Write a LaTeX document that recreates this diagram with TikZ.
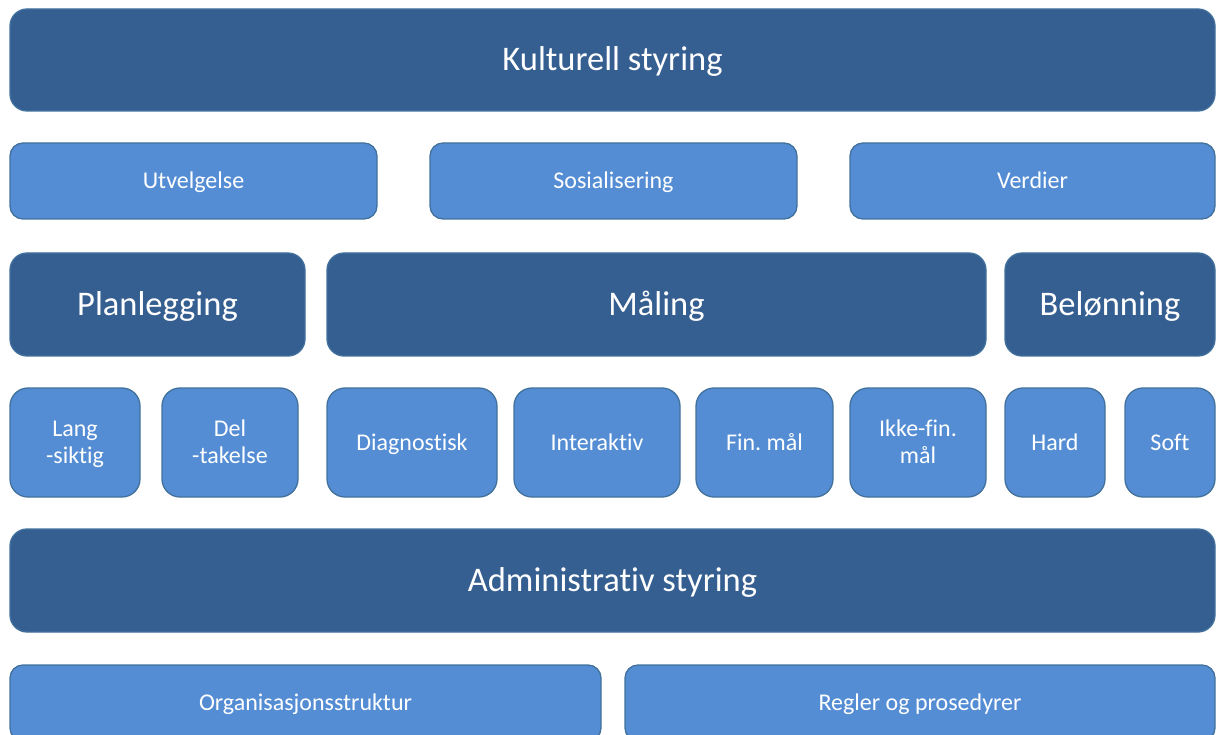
\documentclass[tikz,border=0pt]{standalone}
\usepackage{fontspec}
\setmainfont{Carlito}[Ligatures=NoCommon]
\frenchspacing

\definecolor{morkbla}{RGB}{54,95,145}
\definecolor{lysbla}{RGB}{84,141,212}
\definecolor{kantbla}{RGB}{65,113,156}

\tikzset{
  boks/.style={
    draw=kantbla,
    line width=1.3pt,
    text=white,
    inner sep=0pt,
    align=center,
    text depth=0pt
  },
  hoved/.style={
    boks,
    fill=morkbla,
    rounded corners=17pt,
    text height=21.8pt,
    font=\fontsize{34.5}{40}\selectfont
  },
  under/.style={
    boks,
    fill=lysbla,
    rounded corners=13pt,
    text height=15.2pt,
    font=\fontsize{24}{27.5}\selectfont
  },
  tolinjer/.style={text height=42.7pt}
}

\begin{document}
\begin{tikzpicture}[
  x=1pt,
  y=-1pt,
  line join=round
]
  \clip (0,0) rectangle (1216,735);

  % Kulturell styring
  \node[hoved, minimum width=1205, minimum height=102]
    (kultur) at (612.5,60) {Kulturell styring};

  \node[under, minimum width=367, minimum height=76]
    (utvelg) at (193.5,181) {Utvelgelse};
  \node[under, minimum width=367, minimum height=76]
    (sosial) at (613.5,181) {Sosialisering};
  \node[under, minimum width=365, minimum height=76]
    (verdier) at (1032.5,181) {Verdier};

  % Planlegging, maling og belonning
  \node[hoved, minimum width=295, minimum height=103]
    (plan) at (157.5,304.5) {Planlegging};
  \node[hoved, minimum width=659, minimum height=103]
    (maal) at (656.5,304.5) {Måling};
  \node[hoved, minimum width=210, minimum height=103]
    (belon) at (1110,304.5) {Belønning};

  % Underpunkter
  \begin{scope}[every node/.append style={
      under, rounded corners=18pt, minimum height=109}]
    \node[tolinjer, minimum width=130] (lang) at (75,442.5) {Lang\\-siktig};
    \node[tolinjer, minimum width=136] (del) at (230,442.5) {Del\\-takelse};
    \node[minimum width=170] (diag) at (412,442.5) {Diagnostisk};
    \node[minimum width=166] (inter) at (597,442.5) {Interaktiv};
    \node[minimum width=137] (fin) at (764.5,442.5) {Fin. mål};
    \node[tolinjer, minimum width=136] (ikkefin) at (918,442.5) {Ikke-fin.\\mål};
    \node[minimum width=100] (hard) at (1055,442.5) {Hard};
    \node[minimum width=90] (soft) at (1170,442.5) {Soft};
  \end{scope}

  % Administrativ styring
  \node[hoved, minimum width=1205, minimum height=103]
    (admin) at (612.5,580.5) {Administrativ styring};

  \node[under, minimum width=591, minimum height=76]
    (org) at (305.5,703) {Organisasjonsstruktur};
  \node[under, minimum width=590, minimum height=76]
    (regler) at (920,703) {Regler og prosedyrer};
\end{tikzpicture}
\end{document}
